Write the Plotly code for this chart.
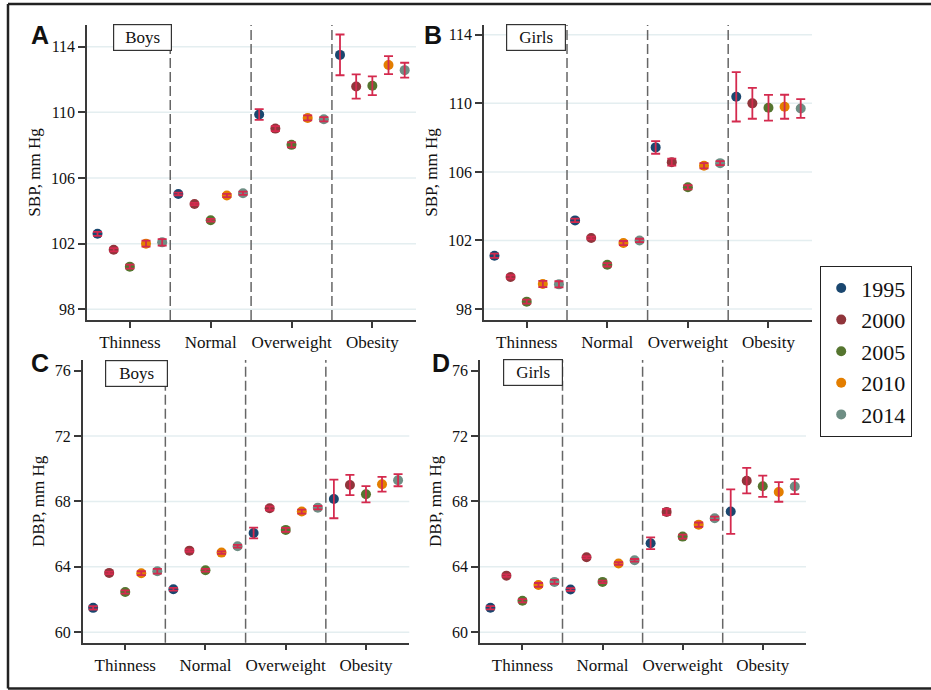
import plotly.graph_objects as go

categories = ["Thinness", "Normal", "Overweight", "Obesity"]
years = ["1995", "2000", "2005", "2010", "2014"]
year_colors = ["#1a476f", "#90353b", "#55752f", "#e37e00", "#6e8e84"]
year_offsets = [-0.4, -0.2, 0.0, 0.2, 0.4]

# SBP, boys (rows = years, cols = categories)
sbp_boys = [
    [102.60, 105.03, 109.87, 113.50],
    [101.63, 104.42, 109.01, 111.57],
    [100.60, 103.43, 108.02, 111.62],
    [102.00, 104.93, 109.66, 112.88],
    [102.08, 105.07, 109.58, 112.57],
]
sbp_boys_err = [
    [0.12, 0.08, 0.33, 1.24],
    [0.10, 0.07, 0.15, 0.74],
    [0.12, 0.08, 0.15, 0.57],
    [0.18, 0.10, 0.15, 0.55],
    [0.20, 0.10, 0.13, 0.45],
]
# SBP, girls
sbp_girls = [
    [101.11, 103.17, 107.43, 110.38],
    [99.87, 102.14, 106.57, 110.00],
    [98.43, 100.58, 105.10, 109.74],
    [99.46, 101.85, 106.36, 109.80],
    [99.44, 102.00, 106.51, 109.70],
]
sbp_girls_err = [
    [0.12, 0.10, 0.37, 1.44],
    [0.10, 0.08, 0.20, 0.90],
    [0.12, 0.10, 0.12, 0.75],
    [0.18, 0.12, 0.15, 0.70],
    [0.18, 0.10, 0.12, 0.55],
]
# DBP, boys
dbp_boys = [
    [61.49, 62.63, 66.07, 68.15],
    [63.63, 64.99, 67.58, 69.01],
    [62.46, 63.79, 66.26, 68.44],
    [63.61, 64.87, 67.38, 69.05],
    [63.73, 65.26, 67.62, 69.30],
]
dbp_boys_err = [
    [0.10, 0.08, 0.33, 1.18],
    [0.08, 0.07, 0.12, 0.62],
    [0.10, 0.08, 0.12, 0.50],
    [0.12, 0.08, 0.12, 0.45],
    [0.15, 0.08, 0.10, 0.37],
]
# DBP, girls
dbp_girls = [
    [61.50, 62.61, 65.44, 67.38],
    [63.46, 64.59, 67.36, 69.27],
    [61.93, 63.08, 65.85, 68.93],
    [62.89, 64.20, 66.58, 68.58],
    [63.08, 64.40, 66.97, 68.91],
]
dbp_girls_err = [
    [0.10, 0.08, 0.36, 1.36],
    [0.08, 0.07, 0.18, 0.78],
    [0.10, 0.08, 0.12, 0.65],
    [0.12, 0.08, 0.13, 0.60],
    [0.12, 0.08, 0.10, 0.46],
]

sbp_ticks = [98, 102, 106, 110, 114]
dbp_ticks = [60, 64, 68, 72, 76]
sbp_grid = [98, 102, 106, 110, 114]
dbp_grid = [60, 64, 68, 72]

W, H = 931, 690
SERIF = "Liberation Serif, Times New Roman, serif"
SANS = "Liberation Sans, Arial, sans-serif"
ERR_COLOR = "#d42a4e"

panels = [
    (sbp_boys, sbp_boys_err, "", (87, 416), (25, 320), [97.35, 115.32], sbp_ticks, sbp_grid, "SBP, mm Hg",
     "A", (39.5, 35.5), "Boys", (142, 37.7), 59),
    (sbp_girls, sbp_girls_err, "2", (484, 812), (25, 320), [97.36, 114.57], sbp_ticks, sbp_grid, "SBP, mm Hg",
     "B", (433, 35.5), "Girls", (535.5, 37.5), 60),
    (dbp_boys, dbp_boys_err, "3", (82.7, 409.3), (360, 642.7), [59.36, 76.65], dbp_ticks, dbp_grid, "DBP, mm Hg",
     "C", (39.5, 363), "Boys", (136, 373), 63),
    (dbp_girls, dbp_girls_err, "4", (480, 806), (360, 642.7), [59.36, 76.65], dbp_ticks, dbp_grid, "DBP, mm Hg",
     "D", (441, 363), "Girls", (532.7, 372.3), 60),
]

fig = go.Figure()
annotations = []
shapes = []
layout_axes = {}

for pi, (vals, errs, sfx, xpx, ypx, yr, ticks, grid, ytitle, letter, lpos, boxlab, bpos, bw) in enumerate(panels):
    xa = "x" + sfx
    ya = "y" + sfx
    for yi, yname in enumerate(years):
        xs = [ci + year_offsets[yi] for ci in range(len(categories))]
        fig.add_trace(go.Scatter(
            x=xs, y=vals[yi], xaxis=xa, yaxis=ya, mode="markers",
            name=yname, legendgroup=yname, showlegend=(pi == 0),
            marker=dict(size=10, color=year_colors[yi], line=dict(width=0)),
        ))
    for yi, yname in enumerate(years):
        xs = [ci + year_offsets[yi] for ci in range(len(categories))]
        fig.add_trace(go.Scatter(
            x=xs, y=vals[yi], xaxis=xa, yaxis=ya, mode="markers",
            showlegend=False, hoverinfo="skip",
            marker=dict(size=1, color="rgba(0,0,0,0)"),
            error_y=dict(type="data", array=errs[yi], color=ERR_COLOR, thickness=1.8, width=4.5),
        ))
    layout_axes["xaxis" + sfx] = dict(
        domain=[xpx[0] / W, xpx[1] / W], anchor=ya, range=[-0.53, 3.54],
        tickvals=list(range(len(categories))), ticktext=categories,
        showline=True, linecolor="#3a3a3a", linewidth=1.5,
        ticks="outside", ticklen=6, tickwidth=1.5, tickcolor="#3a3a3a",
        showgrid=False, zeroline=False,
        tickfont=dict(family=SERIF, size=17, color="#111"),
    )
    layout_axes["yaxis" + sfx] = dict(
        domain=[1 - ypx[1] / H, 1 - ypx[0] / H], anchor=xa, range=yr,
        tickvals=ticks,
        showline=True, linecolor="#3a3a3a", linewidth=1.5,
        ticks="outside", ticklen=7, tickwidth=1.5, tickcolor="#3a3a3a",
        showgrid=False, zeroline=False,
        tickfont=dict(family=SERIF, size=16, color="#111"),
        title=dict(text=ytitle, font=dict(family=SERIF, size=17, color="#111"), standoff=6),
    )
    for gv in grid:
        shapes.append(dict(type="line", xref=xa + " domain", yref=ya, x0=0, x1=1, y0=gv, y1=gv,
                           layer="below", line=dict(color="#e4eef0", width=1.5)))
    for xv in [0.5, 1.5, 2.5]:
        shapes.append(dict(type="line", xref=xa, yref=ya + " domain", x0=xv, x1=xv, y0=0, y1=1,
                           line=dict(color="#666666", width=1.5, dash="10px,4px")))
    annotations.append(dict(text="<b>" + letter + "</b>", xref="paper", yref="paper",
                            x=lpos[0] / W, y=1 - lpos[1] / H, xanchor="center", yanchor="middle",
                            showarrow=False, font=dict(family=SANS, size=25, color="#111")))
    annotations.append(dict(text=boxlab, xref="paper", yref="paper",
                            x=bpos[0] / W, y=1 - bpos[1] / H, xanchor="center", yanchor="middle",
                            showarrow=False, width=bw - 2, height=25, borderpad=0,
                            bordercolor="#333", borderwidth=1.2, bgcolor="white",
                            font=dict(family=SERIF, size=17, color="#111")))

# outer frame
shapes.append(dict(type="line", xref="paper", yref="paper", x0=8 / W, x1=1.05, y0=1 - 4 / H, y1=1 - 4 / H,
                   line=dict(color="#222", width=2.5)))
shapes.append(dict(type="line", xref="paper", yref="paper", x0=8 / W, x1=8 / W, y0=1 - 4 / H, y1=1 - 688.5 / H,
                   line=dict(color="#222", width=2.5)))
shapes.append(dict(type="line", xref="paper", yref="paper", x0=8 / W, x1=1.05, y0=1 - 688.5 / H, y1=1 - 688.5 / H,
                   line=dict(color="#222", width=2.5)))

fig.update_layout(
    width=W, height=H, margin=dict(l=0, r=0, t=0, b=0),
    paper_bgcolor="white", plot_bgcolor="white",
    showlegend=True,
    legend=dict(x=820 / W, y=1 - 266 / H, xanchor="left", yanchor="top",
                bordercolor="#222", borderwidth=1.2, bgcolor="white",
                font=dict(family=SERIF, size=22, color="#111"),
                itemwidth=30, tracegroupgap=0),
    shapes=shapes, annotations=annotations,
    **layout_axes,
)

fig.write_html("out.html", config={"displayModeBar": False},
               post_script="document.body.style.margin='0px';document.body.style.padding='0px';")
